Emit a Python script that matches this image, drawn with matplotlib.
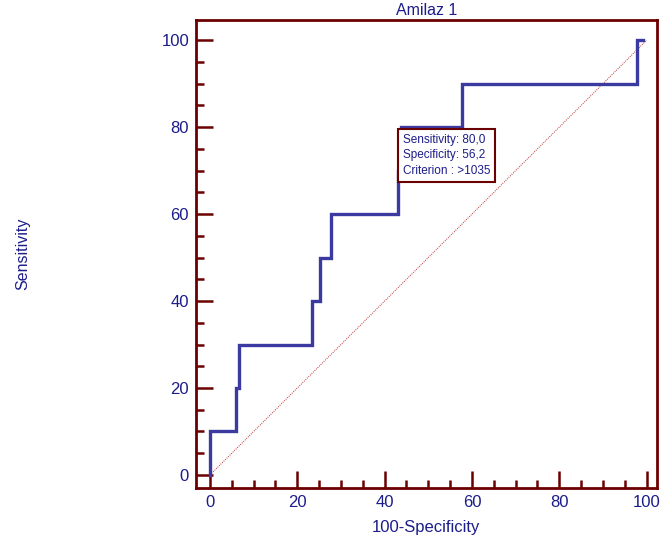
import matplotlib
matplotlib.use("Agg")
import matplotlib.pyplot as plt
from matplotlib.ticker import MultipleLocator

plt.rcParams['font.family'] = ['Liberation Sans', 'DejaVu Sans']

# ROC curve steps (100-Specificity, Sensitivity)
fpr = [0, 0, 6.0, 6.0, 6.6, 6.6, 23.4, 23.4, 25.3, 25.3, 27.6, 27.6,
       43.0, 43.0, 43.8, 43.8, 57.8, 57.8, 97.8, 97.8, 99.2]
tpr = [0, 10, 10, 20, 20, 30, 30, 40, 40, 50, 50, 60,
       60, 70, 70, 80, 80, 90, 90, 100, 100]

# chosen cut-off
best_sens = 80.0
best_spec = 56.2
criterion = ">1035"

frame = '#6b0000'
txt = '#1c1c8a'
line = '#3a3aa0'

fig = plt.figure(figsize=(6.6, 5.45), dpi=100)
ax = fig.add_axes([0.297, 0.1046, 0.698, 0.8584])

ax.plot([0, 100], [0, 100], color='#c03030', lw=0.7, ls=(0, (1, 1.2)))
ax.plot(fpr, tpr, color=line, lw=2.4, solid_joinstyle='miter')

ax.set_xlim(-3.2, 102.3)
ax.set_ylim(-3.0, 104.6)

for s in ax.spines.values():
    s.set_color(frame)
    s.set_linewidth(2)

ax.xaxis.set_major_locator(MultipleLocator(20))
ax.xaxis.set_minor_locator(MultipleLocator(5))
ax.yaxis.set_major_locator(MultipleLocator(20))
ax.yaxis.set_minor_locator(MultipleLocator(5))
ax.tick_params(which='both', direction='in', color=frame, width=1.8,
               labelcolor=txt, labelsize=12, top=False, right=False)
ax.tick_params(which='major', length=12, pad=5)
ax.tick_params(which='minor', length=6)

ax.set_title('Amilaz 1', color=txt, fontsize=11.5, pad=4)
ax.set_xlabel('100-Specificity', color=txt, fontsize=12, labelpad=7)
ax.set_ylabel('Sensitivity', color=txt, fontsize=11.5)
ax.yaxis.set_label_coords(-0.36, 0.5)

label = ('Sensitivity: %.1f\nSpecificity: %.1f\nCriterion : %s'
         % (best_sens, best_spec, criterion)).replace('.', ',')
ax.text(100 - best_spec + 0.4, best_sens - 1.5, label, ha='left', va='top',
        color=txt, fontsize=8.5, linespacing=1.4,
        bbox=dict(boxstyle='square,pad=0.4', fc='white', ec=frame, lw=1.5))

fig.savefig('out.png', dpi=100)
